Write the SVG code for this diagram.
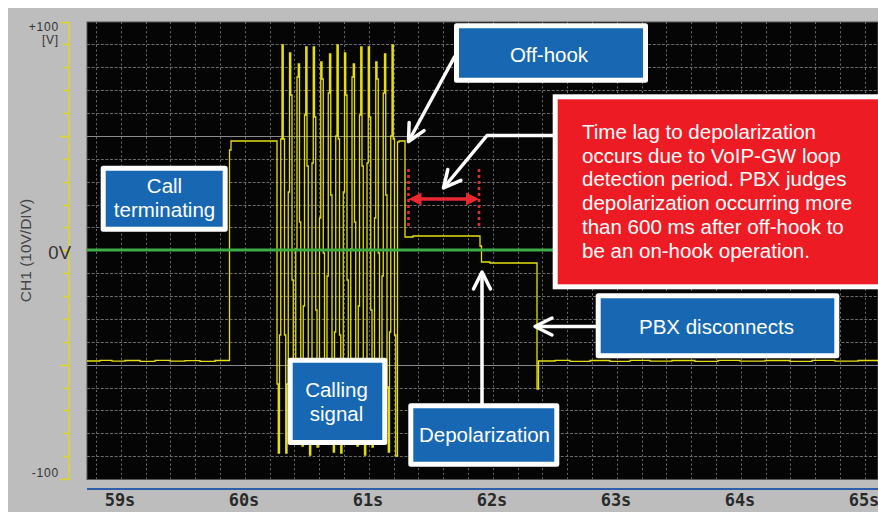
<svg xmlns="http://www.w3.org/2000/svg" width="878" height="512" viewBox="0 0 878 512">
  <style>
    .sans { font-family: "Liberation Sans", Arial, Helvetica, sans-serif; }
    .gh { stroke: #6c6c6c; stroke-width: 1; stroke-dasharray: 3 1.6; fill: none; }
    .gv { stroke: #6c6c6c; stroke-width: 1; stroke-dasharray: 2 2.6; fill: none; }
    .ref { stroke: #8a8a8a; stroke-width: 1; }
    .trace { fill: none; stroke: #e6df10; stroke-width: 1.3; stroke-linejoin: miter; }
    .box { fill: #1767b2; stroke: #ffffff; stroke-width: 5; stroke-linejoin: round; }
    .note { fill: #ed1c24; stroke: #ffffff; stroke-width: 5; }
    .lbl { font-family: "Liberation Sans", Arial, Helvetica, sans-serif; font-size: 20.5px; fill: #ffffff; text-anchor: middle; }
    .ptr { fill: none; stroke: #ffffff; stroke-width: 3.5; stroke-linejoin: round; marker-end: url(#open); }
    .tick { font-family: "DejaVu Sans Mono", "Liberation Mono", monospace; font-weight: bold; font-size: 17px; fill: #2a2a2a; text-anchor: middle; }
    .scale { font-family: "Liberation Sans", Arial, sans-serif; font-size: 12px; fill: #333333; text-anchor: end; letter-spacing: 0.8px; }
  </style>
  <defs>
    <marker id="open" markerUnits="userSpaceOnUse" markerWidth="24" markerHeight="24" viewBox="-20 -12 24 24" refX="0" refY="0" orient="auto" overflow="visible">
      <path d="M-17,-8.5 L0,0 L-17,8.5" fill="none" stroke="#ffffff" stroke-width="3.5" stroke-linejoin="round" stroke-linecap="round"/>
    </marker>
    <marker id="tri" markerUnits="userSpaceOnUse" markerWidth="16" markerHeight="16" viewBox="-4 -8 16 16" refX="0" refY="0" orient="auto-start-reverse" overflow="visible">
      <path d="M-3,-6.5 L10,0 L-3,6.5 Z" fill="#e8282e"/>
    </marker>
  </defs>

  <!-- scope frame -->
  <rect x="0" y="0" width="878" height="512" fill="#ffffff"/>
  <rect x="8" y="8" width="870" height="504" fill="#bdbdbd"/>
  <rect x="87" y="22" width="791" height="457.5" fill="#050505" stroke="#555555" stroke-width="1"/>

  <!-- graticule -->
  <path class="gv" d="M96.5 22V479M121.5 22V479M146.5 22V479M170.5 22V479M195.5 22V479M220.5 22V479M245.5 22V479M270.5 22V479M294.5 22V479M319.5 22V479M344.5 22V479M369.5 22V479M394.5 22V479M418.5 22V479M443.5 22V479M468.5 22V479M493.5 22V479M518.5 22V479M542.5 22V479M567.5 22V479M592.5 22V479M617.5 22V479M642.5 22V479M666.5 22V479M691.5 22V479M716.5 22V479M741.5 22V479M766.5 22V479M790.5 22V479M815.5 22V479M840.5 22V479M865.5 22V479"/>
  <path class="gh" d="M87 44.5H878M87 67.5H878M87 90.5H878M87 113.5H878M87 159.5H878M87 182.5H878M87 205.5H878M87 227.5H878M87 273.5H878M87 296.5H878M87 319.5H878M87 342.5H878M87 388.5H878M87 410.5H878M87 433.5H878M87 456.5H878"/>
  <line class="ref" x1="87" y1="136.5" x2="878" y2="136.5"/>
  <line class="ref" x1="87" y1="365.5" x2="878" y2="365.5"/>

  <!-- vertical scale -->
  <line x1="69" y1="22" x2="69" y2="480" stroke="#e0d820" stroke-width="1.5"/>
  <path stroke="#e0d820" stroke-width="1.5" fill="none" d="M60 22.5H69M63 44.5H69M63 67.5H69M63 90.5H69M63 113.5H69M60 136.5H69M63 159.5H69M63 182.5H69M63 205.5H69M63 227.5H69M60 250.5H69M63 273.5H69M63 296.5H69M63 319.5H69M63 342.5H69M60 365.5H69M63 388.5H69M63 410.5H69M63 433.5H69M63 456.5H69M60 479.5H69"/>
  <text class="scale" x="59" y="31">+100</text>
  <text class="scale" x="59" y="44">[V]</text>
  <text class="scale" x="59" y="477">-100</text>
  <text class="sans" x="71" y="259" font-size="18.5" fill="#333333" text-anchor="end">0V</text>
  <text class="sans" transform="translate(31 250.5) rotate(-90)" font-size="15.5" fill="#444444" text-anchor="middle">CH1 (10V/DIV)</text>

  <!-- time axis -->
  <line x1="87" y1="489" x2="878" y2="489" stroke="#2d5faa" stroke-width="2"/>
  <text class="tick" x="120" y="506">59s</text>
  <text class="tick" x="244" y="506">60s</text>
  <text class="tick" x="368" y="506">61s</text>
  <text class="tick" x="492" y="506">62s</text>
  <text class="tick" x="616" y="506">63s</text>
  <text class="tick" x="740" y="506">64s</text>
  <text class="tick" x="864" y="506">65s</text>

  <!-- line voltage trace -->
  <path class="trace" d="M87 361 H100 V360.3 H112 V361.2 H125 V360.5 H140 V361.3 H155 V360.4 H170 V361.2 H185 V360.6 H200 V361.3 H215 V360.5 H229.5 V150 H231 V141 H277 V384 H278.25 V453 H279.5 V335 H280.75 V139 H282 V45 H283.25 V139 H284.5 V335 H285.75 V453 H287 V384 H288.25 V192 H289.5 V53 H290.75 V95 H292 V280 H293.25 V437 H294.5 V422 H295.75 V249 H297 V77 H298.25 V64 H299.5 V222 H300.75 V406 H302 V446 H303.25 V306 H304.5 V115 H305.75 V47 H307 V166 H308.25 V362 H309.5 V455 H310.75 V359 H312 V163 H313.25 V47 H314.5 V117 H315.75 V310 H317 V447 H318.25 V403 H319.5 V218 H320.75 V62 H322 V79 H323.25 V253 H324.5 V424 H325.75 V435 H327 V276 H328.25 V93 H329.5 V54 H330.75 V195 H332 V387 H333.25 V452 H334.5 V332 H335.75 V136 H337 V45 H338.25 V139 H339.5 V335 H340.75 V453 H342 V384 H343.25 V192 H344.5 V53 H345.75 V95 H347 V280 H348.25 V437 H349.5 V422 H350.75 V249 H352 V77 H353.25 V64 H354.5 V222 H355.75 V406 H357 V446 H358.25 V306 H359.5 V115 H360.75 V47 H362 V166 H363.25 V362 H364.5 V455 H365.75 V359 H367 V163 H368.25 V47 H369.5 V117 H370.75 V310 H372 V447 H373.25 V403 H374.5 V218 H375.75 V62 H377 V79 H378.25 V253 H379.5 V424 H380.75 V435 H382 V276 H383.25 V93 H384.5 V54 H385.75 V195 H387 V387 H388.25 V452 H389.5 V332 H390.75 V136 H392 V45 H393.25 V139 H394.5 V335 H395.75 V456 H397.5 V142 H399 V141 H405 V237 H413 V236 H480 V246 H481.5 V262 H490 V263 H537 V389 H538.5 V361 H555 V360.3 H570 V361.3 H590 V360.5 H610 V361.4 H630 V360.4 H650 V361.2 H672 V360.5 H695 V361.3 H718 V360.4 H740 V361.2 H765 V360.5 H790 V361.3 H812 V360.4 H835 V361.2 H858 V360.5 H878"/>

  <!-- 0 V reference -->
  <line x1="87" y1="250" x2="878" y2="250" stroke="#3cae48" stroke-width="3"/>

  <!-- connectors -->
  <g id="connectors">
    <line x1="408.5" y1="169" x2="408.5" y2="227" stroke="#e8282e" stroke-width="2.6" stroke-dasharray="3 3"/>
    <line x1="479" y1="169" x2="479" y2="227" stroke="#e8282e" stroke-width="2.6" stroke-dasharray="3 3"/>
    <line x1="418.5" y1="199" x2="469" y2="199" stroke="#e8282e" stroke-width="3.7" marker-start="url(#tri)" marker-end="url(#tri)"/>
    <path class="ptr" d="M455 56 L408.5 141.5"/>
    <path class="ptr" d="M554 135.5 H487 L443.5 188"/>
    <path class="ptr" d="M482 404 V272"/>
    <path class="ptr" d="M597 326.5 H535"/>
  </g>

  <!-- annotations -->
  <g id="n-call">
    <rect class="box" x="103.2" y="168.2" width="122" height="61"/>
    <text class="lbl" x="164.5" y="193.3">Call</text>
    <text class="lbl" x="164.5" y="216.8">terminating</text>
  </g>
  <g id="n-calling">
    <rect class="box" x="290.2" y="360.2" width="94.6" height="82.3"/>
    <text class="lbl" x="336.5" y="397">Calling</text>
    <text class="lbl" x="336.5" y="420.5">signal</text>
  </g>
  <g id="n-offhook">
    <rect class="box" x="456.5" y="25.8" width="189" height="54.5"/>
    <text class="lbl" x="549" y="61.5">Off-hook</text>
  </g>
  <g id="n-depol">
    <rect class="box" x="410.8" y="405.8" width="146" height="58.4"/>
    <text class="lbl" x="484.5" y="441.7">Depolarization</text>
  </g>
  <g id="n-pbx">
    <rect class="box" x="598.2" y="295.8" width="238.6" height="60"/>
    <text class="lbl" x="716.5" y="334">PBX disconnects</text>
  </g>
  <g id="n-timelag">
    <rect class="note" x="555.2" y="96.8" width="330" height="190"/>
    <text class="sans" font-size="20.5" fill="#ffffff">
      <tspan x="582" y="139">Time lag to depolarization</tspan>
      <tspan x="582" y="162.7">occurs due to VoIP-GW loop</tspan>
      <tspan x="582" y="186.4">detection period. PBX judges</tspan>
      <tspan x="582" y="210.1">depolarization occurring more</tspan>
      <tspan x="582" y="233.8">than 600 ms after off-hook to</tspan>
      <tspan x="582" y="257.5">be an on-hook operation.</tspan>
    </text>
  </g>
</svg>
